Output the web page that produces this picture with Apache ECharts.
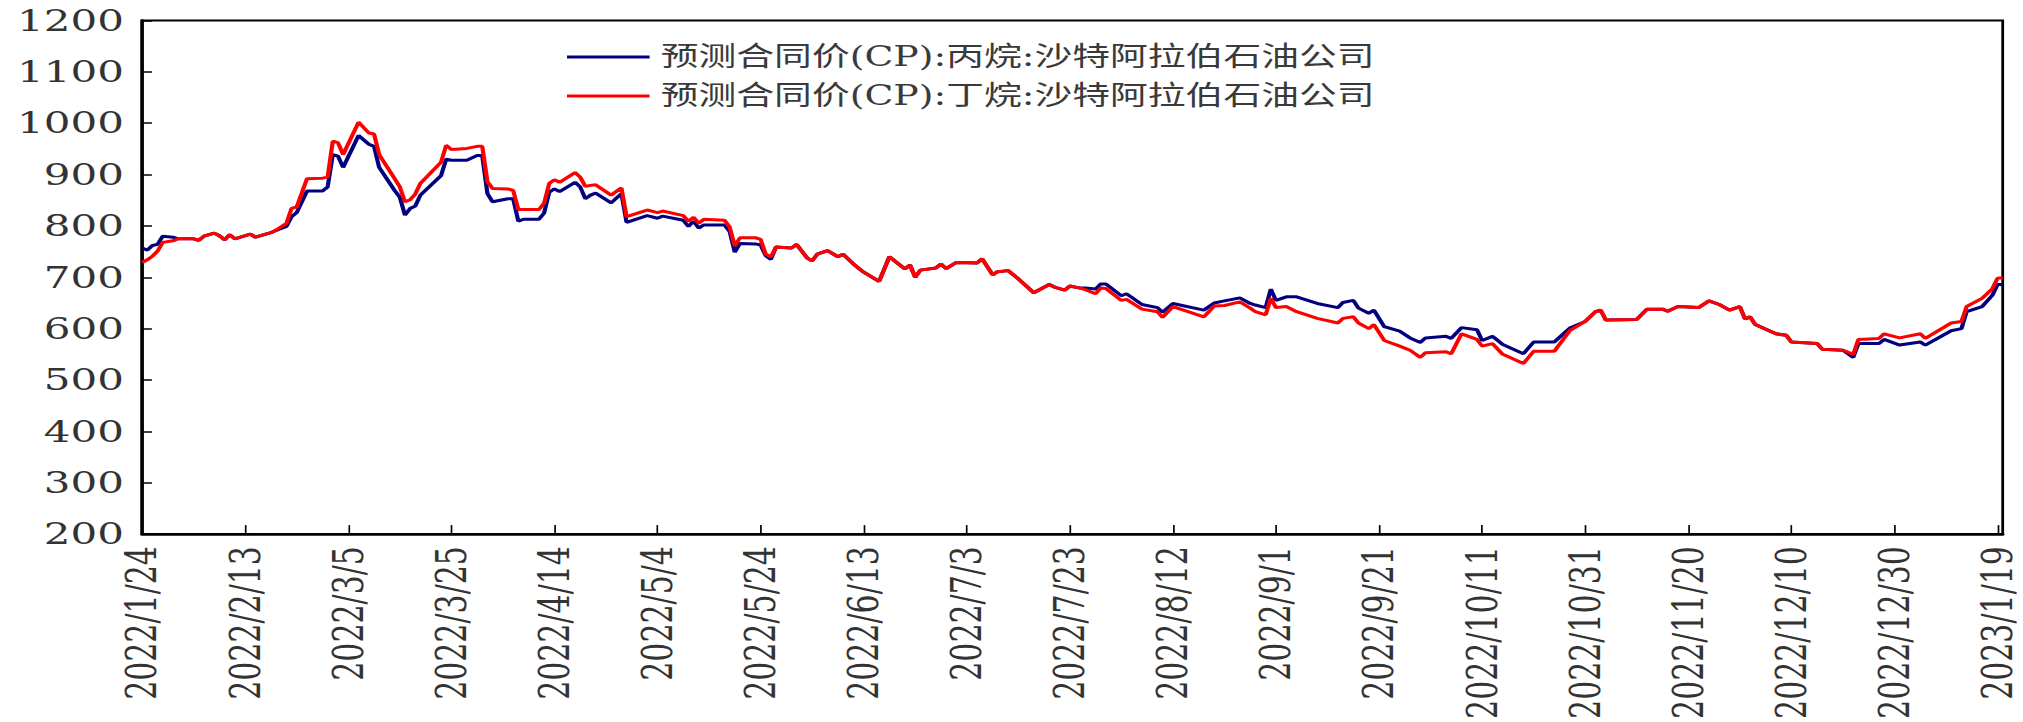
<!DOCTYPE html>
<html>
<head>
<meta charset="utf-8">
<script src="https://cdn.jsdelivr.net/npm/echarts@6/dist/echarts.min.js"></script>
<style>
html,body{margin:0;padding:0;background:#fff;overflow:hidden;width:2023px;height:722px;}
#chart{width:1445px;height:722px;transform:scaleX(1.4);transform-origin:0 0;}
</style>
</head>
<body>
<div id="chart"></div>
<script>
// ---- data ----
const dates = [
'2022/1/24','2022/1/25','2022/1/26','2022/1/27','2022/1/28','2022/1/30','2022/1/31','2022/2/1','2022/2/3','2022/2/4',
'2022/2/5','2022/2/7','2022/2/8','2022/2/9','2022/2/10','2022/2/11','2022/2/14','2022/2/15','2022/2/16','2022/2/18',
'2022/2/19','2022/2/21','2022/2/22','2022/2/23','2022/2/25','2022/2/28','2022/3/1','2022/3/2','2022/3/3','2022/3/4',
'2022/3/7','2022/3/9','2022/3/10','2022/3/11','2022/3/14','2022/3/15','2022/3/16','2022/3/17','2022/3/18','2022/3/19',
'2022/3/23','2022/3/24','2022/3/25','2022/3/28','2022/3/30','2022/3/31','2022/4/1','2022/4/2','2022/4/5','2022/4/6',
'2022/4/7','2022/4/8','2022/4/11','2022/4/12','2022/4/13','2022/4/14','2022/4/15','2022/4/18','2022/4/19','2022/4/20',
'2022/4/21','2022/4/22','2022/4/25','2022/4/27','2022/4/28','2022/5/2','2022/5/4','2022/5/5','2022/5/9','2022/5/10',
'2022/5/11','2022/5/12','2022/5/13','2022/5/17','2022/5/18','2022/5/19','2022/5/20','2022/5/23','2022/5/24','2022/5/25',
'2022/5/26','2022/5/27','2022/5/30','2022/5/31','2022/6/2','2022/6/3','2022/6/4','2022/6/6','2022/6/8','2022/6/9',
'2022/6/11','2022/6/13','2022/6/16','2022/6/18','2022/6/21','2022/6/22','2022/6/23','2022/6/24','2022/6/27','2022/6/28',
'2022/6/29','2022/7/1','2022/7/5','2022/7/6','2022/7/8','2022/7/9','2022/7/11','2022/7/13','2022/7/16','2022/7/19',
'2022/7/20','2022/7/22','2022/7/23','2022/7/25','2022/7/26','2022/7/28','2022/7/29','2022/7/30','2022/8/2','2022/8/3',
'2022/8/6','2022/8/9','2022/8/10','2022/8/12','2022/8/18','2022/8/20','2022/8/22','2022/8/25','2022/8/27','2022/8/28',
'2022/8/30','2022/8/31','2022/9/1','2022/9/3','2022/9/5','2022/9/9','2022/9/13','2022/9/14','2022/9/16','2022/9/17',
'2022/9/19','2022/9/20','2022/9/22','2022/9/25','2022/9/27','2022/9/29','2022/9/30','2022/10/4','2022/10/5','2022/10/7',
'2022/10/10','2022/10/11','2022/10/13','2022/10/15','2022/10/19','2022/10/21','2022/10/25','2022/10/28','2022/10/31','2022/11/2',
'2022/11/3','2022/11/4','2022/11/10','2022/11/12','2022/11/15','2022/11/16','2022/11/18','2022/11/22','2022/11/24','2022/11/26',
'2022/11/28','2022/11/30','2022/12/1','2022/12/2','2022/12/3','2022/12/7','2022/12/9','2022/12/10','2022/12/15','2022/12/16',
'2022/12/20','2022/12/22','2022/12/23','2022/12/27','2022/12/28','2022/12/31','2023/1/4','2023/1/5','2023/1/10','2023/1/12',
'2023/1/13','2023/1/16','2023/1/18','2023/1/19','2023/1/20'
];
// 预测合同价(CP):丙烷 (blue)
const propane = [
757,753,762,764,780,778,775,775,775,772,
780,786,781,773,783,775,784,778,781,787,
791,799,818,826,868,868,876,939,936,914,
976,959,955,914,869,856,821,834,839,860,
898,930,928,928,937,937,863,847,853,853,
809,813,813,825,866,872,867,885,876,853,
860,864,845,863,807,820,815,819,811,799,
809,796,802,802,789,749,766,765,763,742,
735,759,757,764,738,732,745,752,740,745,
726,710,692,740,716,724,700,714,718,726,
717,729,728,736,705,711,713,697,670,686,
681,675,683,679,679,677,687,687,664,668,
647,641,632,649,636,650,654,660,649,646,
641,677,655,662,662,649,641,651,655,640,
630,636,604,595,582,573,582,585,581,602,
598,577,585,569,551,574,574,601,614,633,
636,617,618,638,638,634,643,641,654,647,
636,643,619,623,608,590,587,574,571,560,
558,544,571,571,579,568,574,568,596,600,
633,643,665,686,686
];
// 预测合同价(CP):丁烷 (red)
const butane = [
729,734,741,751,768,771,775,775,775,772,
780,786,781,773,783,775,784,778,781,787,
792,805,834,837,892,893,895,965,962,939,
1002,981,979,939,892,876,847,851,862,883,
924,957,949,951,955,955,886,873,872,869,
832,832,832,844,883,890,885,904,895,877,
879,880,860,874,818,831,826,829,820,809,
817,805,813,811,798,761,777,777,774,745,
740,759,757,764,738,732,745,752,740,745,
726,710,692,740,716,724,700,714,718,726,
717,729,728,736,705,711,713,697,670,686,
681,675,683,679,676,668,679,678,655,657,
638,633,622,643,623,644,645,652,640,633,
627,659,641,643,633,620,611,620,623,611,
600,608,577,566,558,544,553,555,551,590,
579,566,571,550,532,556,556,596,614,633,
636,617,618,638,638,634,643,641,654,647,
636,643,619,623,608,590,587,574,571,560,
558,550,579,581,590,582,590,581,611,614,
643,659,678,698,699
];
const xTickLabels = ['2022/1/24','2022/2/13','2022/3/5','2022/3/25','2022/4/14','2022/5/4','2022/5/24','2022/6/13','2022/7/3','2022/7/23','2022/8/12','2022/9/1','2022/9/21','2022/10/11','2022/10/31','2022/11/20','2022/12/10','2022/12/30','2023/1/19'];
const seriesNames = ['预测合同价(CP):丙烷:沙特阿拉伯石油公司','预测合同价(CP):丁烷:沙特阿拉伯石油公司'];

// ---- build ----
const base = Date.UTC(2022, 0, 24);
function dayOffset(s) {
  const p = s.split('/').map(Number);
  return Math.round((Date.UTC(p[0], p[1] - 1, p[2]) - base) / 86400000);
}
const xs = dates.map(dayOffset);
const lastDay = dayOffset('2023/1/20');
const blueData = xs.map((x, i) => [x, propane[i]]);
const redData = xs.map((x, i) => [x, butane[i]]);

const labelFont = 'DejaVu Serif, Liberation Serif, serif';
const chart = echarts.init(document.getElementById('chart'), null, {renderer: 'svg'});
chart.setOption({
  animation: false,
  backgroundColor: '#ffffff',
  grid: {
    left: 101.5, right: 14.5, top: 20.5, bottom: 179.2,
    show: true, borderColor: '#000', borderWidth: 2, backgroundColor: 'transparent'
  },
  legend: {
    orient: 'vertical',
    left: 405, top: 42, padding: 0,
    itemWidth: 59, itemHeight: 3, itemGap: 9,
    icon: 'rect',
    data: seriesNames,
    textStyle: {
      fontFamily: "'DejaVu Serif', 'Noto Sans CJK SC'", fontSize: 27, color: '#3a3a3a', lineHeight: 30,
      padding: [0, 0, 0, 3]
    }
  },
  xAxis: {
    type: 'value', min: 0, max: lastDay, interval: 20,
    axisLine: {show: true, onZero: false, lineStyle: {color: '#000', width: 2.5}},
    axisTick: {show: true, inside: true, length: 9, lineStyle: {color: '#000', width: 1.2}},
    splitLine: {show: false},
    axisLabel: {
      rotate: 90, margin: 12, fontFamily: labelFont, fontSize: 30, color: '#333',
      showMaxLabel: false,
      formatter: function (v) { return (v % 20 === 0 && xTickLabels[v / 20]) ? xTickLabels[v / 20] : ''; }
    }
  },
  yAxis: {
    type: 'value', min: 200, max: 1200, interval: 100,
    axisLine: {show: true, lineStyle: {color: '#000', width: 2.5}},
    axisTick: {show: true, inside: true, length: 7, lineStyle: {color: '#000', width: 1.5}},
    splitLine: {show: false},
    axisLabel: {margin: 13, fontFamily: labelFont, fontSize: 30, color: '#333',
      formatter: function (v) { return String(v); }}
  },
  series: [
    {name: seriesNames[0], type: 'line', data: blueData, showSymbol: false, color: '#000080',
     lineStyle: {color: '#000080', width: 3}},
    {name: seriesNames[1], type: 'line', data: redData, showSymbol: false, color: '#ff0000',
     lineStyle: {color: '#ff0000', width: 3}}
  ]
});
</script>
</body>
</html>
